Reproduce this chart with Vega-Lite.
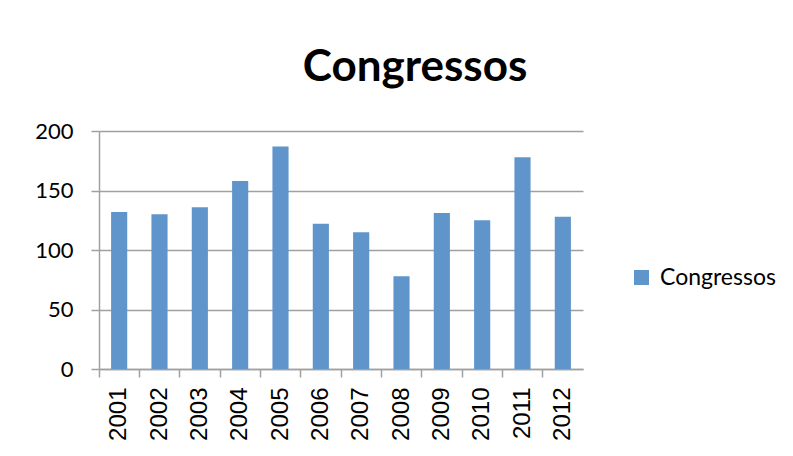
{
  "$schema": "https://vega.github.io/schema/vega-lite/v6.json",
  "width": 484,
  "height": 238,
  "autosize": {"type": "none"},
  "padding": {"left": 99, "top": 131, "right": 210, "bottom": 87},
  "background": "white",
  "title": {
    "text": "Congressos",
    "font": "Lato",
    "fontSize": 44,
    "fontWeight": "bold",
    "color": "#000000",
    "anchor": "middle",
    "frame": "group",
    "dx": 74,
    "baseline": "alphabetic",
    "offset": -5
  },
  "config": {"view": {"stroke": null}},
  "data": {
    "values": [
      {"year": "2001", "value": 132, "series": "Congressos"},
      {"year": "2002", "value": 130, "series": "Congressos"},
      {"year": "2003", "value": 136, "series": "Congressos"},
      {"year": "2004", "value": 158, "series": "Congressos"},
      {"year": "2005", "value": 187, "series": "Congressos"},
      {"year": "2006", "value": 122, "series": "Congressos"},
      {"year": "2007", "value": 115, "series": "Congressos"},
      {"year": "2008", "value": 78, "series": "Congressos"},
      {"year": "2009", "value": 131, "series": "Congressos"},
      {"year": "2010", "value": 125, "series": "Congressos"},
      {"year": "2011", "value": 178, "series": "Congressos"},
      {"year": "2012", "value": 128, "series": "Congressos"}
    ]
  },
  "layer": [
    {
      "mark": {"type": "bar", "opacity": 0},
      "encoding": {
        "x": {
          "field": "year",
          "type": "ordinal",
          "scale": {"paddingInner": 0, "paddingOuter": 0},
          "axis": {
            "orient": "bottom",
            "title": null,
            "labels": false,
            "domain": false,
            "ticks": true,
            "bandPosition": 0,
            "tickSize": 8,
            "tickColor": "#a0a0a0",
            "tickWidth": 1.5,
            "grid": false
          }
        },
        "y": {
          "field": "value",
          "type": "quantitative",
          "scale": {"domain": [0, 200]},
          "axis": {
            "title": null,
            "values": [0, 50, 100, 150, 200],
            "grid": true,
            "gridColor": "#a0a0a0",
            "gridWidth": 1.5,
            "domainColor": "#a0a0a0",
            "domainWidth": 1.5,
            "tickColor": "#a0a0a0",
            "tickWidth": 1.5,
            "tickSize": 8,
            "labelFont": "Lato",
            "labelFontSize": 22,
            "labelColor": "#000000",
            "labelPadding": 18
          }
        }
      }
    },
    {
      "mark": {"type": "bar"},
      "encoding": {
        "x": {
          "field": "year",
          "type": "ordinal",
          "scale": {"paddingInner": 0.6, "paddingOuter": 0.3},
          "axis": {
            "orient": "bottom",
            "title": null,
            "ticks": false,
            "labelAngle": -90,
            "labelFont": "Liberation Sans",
            "labelFontSize": 24,
            "labelColor": "#000000",
            "labelPadding": 18,
            "domainColor": "#a0a0a0",
            "domainWidth": 1.5
          }
        },
        "y": {
          "field": "value",
          "type": "quantitative",
          "scale": {"domain": [0, 200]},
          "axis": {
            "title": null,
            "values": [0, 50, 100, 150, 200],
            "grid": true,
            "gridColor": "#a0a0a0",
            "gridWidth": 1.5,
            "domainColor": "#a0a0a0",
            "domainWidth": 1.5,
            "tickColor": "#a0a0a0",
            "tickWidth": 1.5,
            "tickSize": 8,
            "labelFont": "Lato",
            "labelFontSize": 22,
            "labelColor": "#000000",
            "labelPadding": 18
          }
        },
        "color": {
          "field": "series",
          "type": "nominal",
          "scale": {"range": ["#5f95ca"]},
          "legend": {
            "title": null,
            "orient": "none",
            "legendX": 531,
            "legendY": 135,
            "symbolType": "square",
            "symbolSize": 225,
            "symbolStrokeWidth": 0,
            "symbolOpacity": 1,
            "labelFont": "Lato",
            "labelFontSize": 23,
            "labelColor": "#000000",
            "labelOffset": 7
          }
        }
      }
    }
  ],
  "resolve": {"scale": {"x": "independent"}}
}
